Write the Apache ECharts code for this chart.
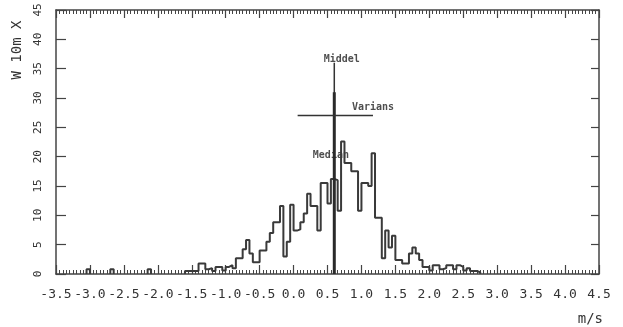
<!DOCTYPE html>
<html><head><meta charset="utf-8">
<script src="https://cdn.jsdelivr.net/npm/echarts@6/dist/echarts.min.js"></script>
<style>html,body{margin:0;padding:0;background:#fff}#c{width:623px;height:327px}</style>
</head><body><div id="c"></div>
<script>
// Histogram of wind speed (m/s), bins 0.05 wide starting at binStart
const binStart = -1.6;
const binWidth = 0.05;
const counts = [0.5,0.5,0.5,0.5,1.8,1.8,0.8,1.0,0.5,1.2,1.2,0.6,1.2,1.5,1.0,2.7,2.7,4.2,5.8,3.5,
  2.0,2.0,4.0,4.0,5.5,7.0,8.8,8.8,11.6,3.0,5.5,11.8,7.4,7.6,8.8,10.3,13.7,11.6,11.6,7.4,
  15.5,15.5,12.0,16.2,16.0,10.8,22.6,18.9,18.9,17.5,17.5,10.8,15.5,15.5,15.0,20.6,9.6,9.6,2.7,7.4,
  4.5,6.5,2.4,2.4,1.8,1.8,3.5,4.5,3.5,2.4,1.2,1.2,0.6,1.5,1.5,0.8,1.0,1.5,1.5,0.8,
  1.5,1.2,0.6,1.0,0.5,0.5,0.3];
// small isolated blips far left: bin left edges and heights
const blipX = [-3.05, -2.7, -2.15];
const blipY = [0.8, 0.8, 0.8];
// statistics
const middel = 0.6, middelTop = 36;
const median = 0.6, medianTop = 31;
const variansLevel = 27, variansFrom = 0.06, variansTo = 1.17;
// annotation labels
const noteX = [0.71, 1.17, 0.55];
const noteY = [36.5, 28.4, 20.3];
const noteText = ['Middel', 'Varians', 'Median'];
const xTicks = {min: -3.5, max: 4.5, step: 0.5};
const yTicks = {min: 0, max: 45, step: 5};
const xTitle = 'm/s';
const yTitle = 'W 10m X';

const histData = [[binStart, 0]];
counts.forEach((c, i) => histData.push([binStart + i * binWidth, c]));
histData.push([binStart + counts.length * binWidth, 0]);

const blipSeries = blipX.map((x, i) => ({
  type: 'line', step: 'end', symbol: 'none', silent: true,
  lineStyle: {color: '#3a3a3a', width: 2},
  data: [[x, 0], [x, blipY[i]], [x + binWidth, 0]]
}));

const axisCol = '#444';
const mono = 'DejaVu Sans Mono';
const chart = echarts.init(document.getElementById('c'), null, {renderer: 'canvas'});
chart.setOption({
  animation: false,
  backgroundColor: '#fff',
  grid: {left: 56, right: 24, top: 10, bottom: 53},
  xAxis: [{
    type: 'value', position: 'bottom', min: xTicks.min, max: xTicks.max, interval: xTicks.step,
    axisLine: {show: true, onZero: false, lineStyle: {color: axisCol, width: 1.5}},
    axisTick: {show: true, inside: true, length: 9, lineStyle: {color: axisCol, width: 1.2}},
    minorTick: {show: true, splitNumber: 10, length: 4, lineStyle: {color: axisCol, width: 1}},
    splitLine: {show: false},
    axisLabel: {show: true, margin: 14, fontFamily: mono, fontSize: 13, color: '#333',
      formatter: v => v.toFixed(1)}
  }, {
    type: 'value', position: 'top', min: xTicks.min, max: xTicks.max, interval: xTicks.step,
    axisLine: {show: true, onZero: false, lineStyle: {color: axisCol, width: 1.5}},
    axisTick: {show: true, inside: true, length: 8, lineStyle: {color: axisCol, width: 1.2}},
    minorTick: {show: true, splitNumber: 10, length: 4, lineStyle: {color: axisCol, width: 1}},
    splitLine: {show: false}, axisLabel: {show: false}
  }],
  yAxis: [{
    type: 'value', position: 'left', min: yTicks.min, max: yTicks.max, interval: yTicks.step,
    axisLine: {show: true, onZero: false, lineStyle: {color: axisCol, width: 1.5}},
    axisTick: {show: true, inside: true, length: 10, lineStyle: {color: axisCol, width: 1.2}},
    splitLine: {show: false},
    axisLabel: {show: true, rotate: 90, margin: 12, fontFamily: mono, fontSize: 11, color: '#333'}
  }, {
    type: 'value', position: 'right', min: yTicks.min, max: yTicks.max, interval: yTicks.step,
    axisLine: {show: true, onZero: false, lineStyle: {color: axisCol, width: 1.5}},
    axisTick: {show: true, inside: true, length: 8, lineStyle: {color: axisCol, width: 1.2}},
    splitLine: {show: false}, axisLabel: {show: false}
  }],
  graphic: [{
    type: 'text', right: 20, top: 312,
    style: {text: xTitle, font: '14px "DejaVu Sans Mono"', fill: '#333'}
  }, {
    type: 'text', x: 17, y: 50, rotation: Math.PI / 2,
    style: {text: yTitle, font: '14px "DejaVu Sans Mono"', fill: '#333', align: 'center', verticalAlign: 'middle'}
  }],
  series: [{
    type: 'line', step: 'end', symbol: 'none', silent: true,
    lineStyle: {color: '#3a3a3a', width: 2},
    data: histData
  }, ...blipSeries, {
    type: 'line', symbol: 'none', silent: true,
    lineStyle: {color: '#333', width: 1.5},
    data: [[middel, 0], [middel, middelTop]]
  }, {
    type: 'line', symbol: 'none', silent: true,
    lineStyle: {color: '#2a2a2a', width: 3},
    data: [[median, 0], [median, medianTop]]
  }, {
    type: 'line', symbol: 'none', silent: true,
    lineStyle: {color: '#333', width: 1.5},
    data: [[variansFrom, variansLevel], [variansTo, variansLevel]]
  }, {
    type: 'scatter', symbolSize: 0, silent: true,
    data: noteX.map((x, i) => ({value: [x, noteY[i]], name: noteText[i]})),
    label: {show: true, position: 'inside', formatter: p => p.name,
      fontFamily: mono, fontWeight: 'bold', fontSize: 10, color: '#222'}
  }]
});
</script></body></html>
